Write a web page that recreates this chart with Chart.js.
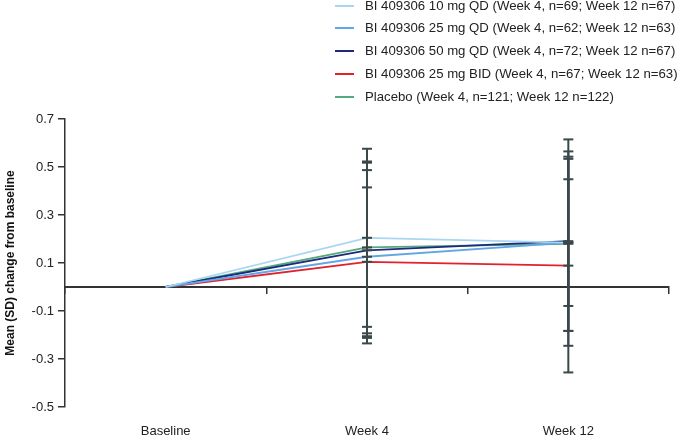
<!DOCTYPE html>
<html>
<head>
<meta charset="utf-8">
<script src="https://cdn.jsdelivr.net/npm/chart.js@4.4.1/dist/chart.umd.min.js"></script>
<style>
  html, body { margin:0; padding:0; background:#fff; }
  #wrap { position:relative; width:685px; height:435px; overflow:hidden; font-family:"Liberation Sans", Arial, sans-serif; }
  #legend { position:absolute; left:0; top:0; }
  .li { position:absolute; left:335px; height:20px; white-space:nowrap; font-size:13.2px; color:#222; }
  .li span.sw { position:absolute; left:0; top:9px; width:19px; height:2px; }
  .li span.tx { position:absolute; left:30px; top:2px; line-height:16px; }
</style>
</head>
<body>
<div id="wrap">
  <canvas id="c" width="685" height="435"></canvas>
  <div id="legend"></div>
</div>
<script>
const categories = ['Baseline', 'Week 4', 'Week 12'];
const yTickValues = [-0.5, -0.3, -0.1, 0.1, 0.3, 0.5, 0.7];

const seriesNames = [
  'BI 409306 10 mg QD (Week 4, n=69; Week 12 n=67)',
  'BI 409306 25 mg QD (Week 4, n=62; Week 12 n=63)',
  'BI 409306 50 mg QD (Week 4, n=72; Week 12 n=67)',
  'BI 409306 25 mg BID (Week 4, n=67; Week 12 n=63)',
  'Placebo (Week 4, n=121; Week 12 n=122)'
];
const seriesColors = ['#a9d6f2', '#62a6e6', '#1d2a7c', '#e3212b', '#54a97f'];

// Means (change from baseline)
const mean10qd  = [0, 0.205, 0.185];
const mean25qd  = [0, 0.126, 0.185];
const mean50qd  = [0, 0.153, 0.191];
const mean25bid = [0, 0.105, 0.089];
const meanPlac  = [0, 0.165, 0.180];

// Standard deviations (Baseline has none)
const sd10qd  = [null, 0.371, 0.430];
const sd25qd  = [null, 0.361, 0.264];
const sd50qd  = [null, 0.365, 0.374];
const sd25bid = [null, 0.310, 0.445];
const sdPlac  = [null, 0.358, 0.363];

const means = [mean10qd, mean25qd, mean50qd, mean25bid, meanPlac];
const sds   = [sd10qd, sd25qd, sd50qd, sd25bid, sdPlac];

const errColor = '#3a4849';
const axisColor = '#333';
const font13 = { family: '"Liberation Sans", Arial, sans-serif', size: 13 };

const datasets = [];
means.forEach((m, s) => {
  const pts = [];
  categories.forEach((cat, i) => {
    if (sds[s][i] == null) return;
    pts.push({ x: cat, y: m[i] - sds[s][i] });
    pts.push({ x: cat, y: m[i] });
    pts.push({ x: cat, y: m[i] + sds[s][i] });
    pts.push({ x: cat, y: null });
  });
  datasets.push({
    label: 'SD ' + seriesNames[s],
    data: pts,
    xAxisID: 'x', yAxisID: 'y',
    borderColor: errColor, borderWidth: 2,
    pointStyle: 'line', pointRadius: 5, pointBorderWidth: 2,
    pointBorderColor: errColor, pointBackgroundColor: errColor,
    spanGaps: false, order: 0
  });
});
means.forEach((m, s) => {
  datasets.push({
    label: seriesNames[s],
    data: m,
    xAxisID: 'x', yAxisID: 'y',
    borderColor: seriesColors[s], borderWidth: 1.8,
    pointRadius: 0, tension: 0, order: 1
  });
});

new Chart(document.getElementById('c'), {
  type: 'line',
  data: { labels: categories, datasets },
  options: {
    responsive: false, animation: false,
    layout: { padding: { top: 119, right: 16, bottom: 0, left: 0 } },
    plugins: { legend: { display: false }, tooltip: { enabled: false } },
    scales: {
      x: {
        type: 'category', position: 'bottom', offset: true,
        grid: { display: false }, border: { display: false },
        ticks: { font: font13, color: '#222', padding: 9, maxRotation: 0 },
        afterFit: s => { s.height = 28; }
      },
      x0: {
        type: 'category', axis: 'x', labels: categories,
        position: { y: 0 }, offset: true,
        ticks: { display: false },
        grid: { drawOnChartArea: false, offset: true, tickLength: 6, color: axisColor, lineWidth: 1.5 },
        border: { color: axisColor, width: 2 }
      },
      y: {
        min: -0.5, max: 0.7,
        afterBuildTicks: s => { s.ticks = yTickValues.map(v => ({ value: v })); },
        ticks: { font: font13, color: '#222', padding: 4, callback: v => Number(v).toFixed(1) },
        grid: { drawOnChartArea: false, tickLength: 7, color: axisColor, lineWidth: 1.5 },
        border: { color: axisColor, width: 1.5 },
        title: { display: true, text: 'Mean (SD) change from baseline', color: '#111',
                 font: { family: '"Liberation Sans", Arial, sans-serif', size: 12, weight: 'bold' },
                 padding: { top: 3, bottom: 0 } },
        afterFit: s => { s.width = 65; }
      }
    }
  }
});

const lg = document.getElementById('legend');
const rowY = [5.7, 28.4, 51.1, 73.8, 96.5];
seriesNames.forEach((n, i) => {
  const d = document.createElement('div');
  d.className = 'li';
  d.style.top = (rowY[i] - 10) + 'px';
  d.innerHTML = '<span class="sw" style="background:' + seriesColors[i] + '"></span><span class="tx">' + n + '</span>';
  lg.appendChild(d);
});
</script>
</body>
</html>
